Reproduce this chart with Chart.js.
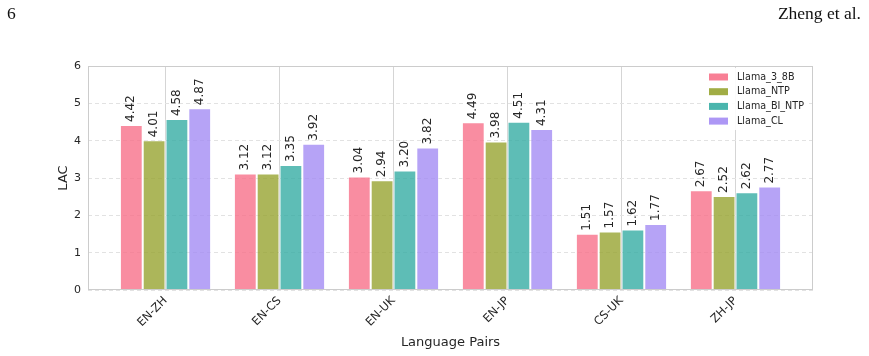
<!DOCTYPE html>
<html lang="en">
<head>
  <meta charset="UTF-8">
  <title>LAC by language pair</title>
  <script src="https://cdn.jsdelivr.net/npm/chart.js"></script>
  <style>
    body {
      margin: 0;
      background: #fff;
    }
    .page {
      position: relative;
      width: 869px;
      height: 356px;
    }
    .head {
      position: absolute;
      top: 3px;
      font-family: "Liberation Serif", "DejaVu Serif", serif;
      font-size: 17.5px;
      color: #111;
    }
    .head.left { left: 7px; }
    .head.right { right: 8px; }
    canvas { position: absolute; left: 0; top: 0; }
  </style>
</head>
<body>
  <div class="page">
    <canvas id="lacChart" width="869" height="356"></canvas>
    <div class="head left">6</div>
    <div class="head right">Zheng et al.</div>
  </div>

  <script>
    const pairs = ['EN-ZH', 'EN-CS', 'EN-UK', 'EN-JP', 'CS-UK', 'ZH-JP'];
    const models = ['Llama_3_8B', 'Llama_NTP', 'Llama_BI_NTP', 'Llama_CL'];
    const llama38b = [4.42, 3.12, 3.04, 4.49, 1.51, 2.67];
    const llamaNtp = [4.01, 3.12, 2.94, 3.98, 1.57, 2.52];
    const llamaBiNtp = [4.58, 3.35, 3.20, 4.51, 1.62, 2.62];
    const llamaCl = [4.87, 3.92, 3.82, 4.31, 1.77, 2.77];
    const yTicks = [0, 1, 2, 3, 4, 5, 6];

    const series = [llama38b, llamaNtp, llamaBiNtp, llamaCl];
    const colors = ['#f77189', '#97a431', '#36ada4', '#a48cf4'];
    const fills = ['rgba(247,113,137,0.8)', 'rgba(151,164,49,0.8)', 'rgba(54,173,164,0.8)', 'rgba(164,140,244,0.8)'];

    // plot frame, labels, axis titles and legend
    const extras = {
      id: 'extras',
      afterDatasetsDraw(chart) {
        const { ctx, chartArea: a } = chart;
        ctx.save();

        // value labels, rotated
        ctx.font = '12px "DejaVu Sans"';
        ctx.fillStyle = '#262626';
        ctx.textAlign = 'left';
        ctx.textBaseline = 'middle';
        chart.data.datasets.forEach((ds, i) => {
          chart.getDatasetMeta(i).data.forEach((bar, j) => {
            ctx.save();
            ctx.translate(bar.x, bar.y - 3);
            ctx.rotate(-Math.PI / 2);
            ctx.fillText(series[i][j].toFixed(2), 0, 0);
            ctx.restore();
          });
        });

        // legend
        ctx.fillStyle = 'rgba(255,255,255,0.9)';
        ctx.fillRect(703, 68, 106, 62);
        ctx.font = '9.6px "DejaVu Sans"';
        ctx.textBaseline = 'middle';
        models.forEach((m, i) => {
          const y = 77 + i * 14.7;
          ctx.fillStyle = colors[i];
          ctx.globalAlpha = 0.9;
          ctx.fillRect(709, y - 3.5, 19, 7);
          ctx.globalAlpha = 1;
          ctx.fillStyle = '#262626';
          ctx.fillText(m, 737, y);
        });

        // frame
        ctx.strokeStyle = '#cccccc';
        ctx.lineWidth = 1;
        ctx.strokeRect(a.left + 0.5, a.top + 0.5, a.right - a.left - 1, a.bottom - a.top - 1);

        // axis titles
        ctx.fillStyle = '#262626';
        ctx.font = '13px "DejaVu Sans"';
        ctx.textAlign = 'center';
        ctx.textBaseline = 'alphabetic';
        ctx.fillText('Language Pairs', (a.left + a.right) / 2, 346);
        ctx.save();
        ctx.translate(67, (a.top + a.bottom) / 2);
        ctx.rotate(-Math.PI / 2);
        ctx.fillText('LAC', 0, 0);
        ctx.restore();

        ctx.restore();
      }
    };

    new Chart(document.getElementById('lacChart'), {
      type: 'bar',
      data: {
        datasets: series.map((vals, i) => ({
          label: models[i],
          data: vals.map((v, j) => ({ x: j, y: v })),
          backgroundColor: fills[i],
          borderColor: 'rgba(255,255,255,0.45)',
          borderWidth: 1,
          categoryPercentage: 0.8,
          barPercentage: 1.0
        }))
      },
      options: {
        responsive: false,
        animation: false,
        layout: { padding: { top: 66, right: 56, left: 0, bottom: 0 } },
        plugins: {
          legend: { display: false },
          tooltip: { enabled: false }
        },
        scales: {
          x: {
            type: 'linear',
            min: -0.68,
            max: 5.68,
            offset: false,
            afterBuildTicks: s => { s.ticks = pairs.map((_, i) => ({ value: i })); },
            afterFit: s => { s.height = 66; },
            ticks: {
              callback: v => pairs[v],
              minRotation: 45,
              maxRotation: 45,
              padding: 4,
              color: '#262626',
              font: { family: 'DejaVu Sans', size: 11.5 }
            },
            grid: { color: '#d5d5d5', drawTicks: false, offset: false },
            border: { display: false }
          },
          y: {
            min: 0,
            max: 6,
            afterBuildTicks: s => { s.ticks = yTicks.map(v => ({ value: v })); },
            afterFit: s => { s.width = 88; },
            ticks: {
              padding: 7,
              color: '#262626',
              font: { family: 'DejaVu Sans', size: 11 }
            },
            grid: { color: '#e2e2e2', drawTicks: false },
            border: { display: false, dash: [4, 3] }
          }
        }
      },
      plugins: [extras]
    });
  </script>
</body>
</html>
